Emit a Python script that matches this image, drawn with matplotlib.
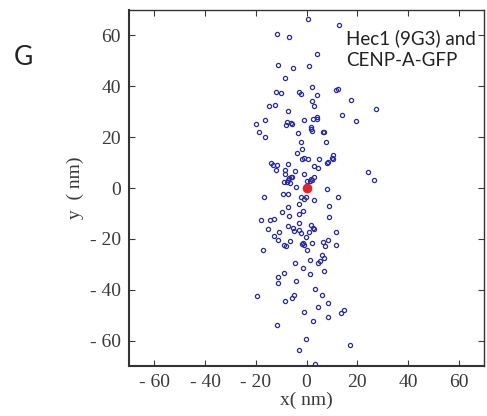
import matplotlib
matplotlib.use('Agg')
import matplotlib.pyplot as plt
import numpy as np

# localisation offsets (nm)
x_nm = [0.65, 12.9, -11.7, -6.8, 4.0, -11.1, -5.5, 0.8, -8.7, 2.3,
        -12.0, -10.2, -3.1, -2.3, 4.0, 2.0, 11.6, 12.4, 17.4, 27.3,
        2.9, -14.8, -12.6, -7.3, 13.8, 19.5, -16.3, -19.8, -7.9, -8.3,
        -6.0, -5.6, -0.9, 2.5, 4.2, 4.2, 1.8, 1.7, 2.0, -18.8,
        -3.5, 6.3, 6.8, -16.3, -2.2, 7.7, -1.7, -3.8, 10.5, 9.9,
        10.4, 4.9, -1.7, -1.2, 0.5, 7.9, 8.3, 3.1, 4.6, -14.1,
        -13.4, -11.6, -7.4, -12.0, -8.6, -8.7, -4.6, -1.2, 24.1, 26.7,
        -6.9, -6.1, -5.6, -7.4, -8.9, -6.6, -7.7, 0.1, 1.6, 2.0,
        1.3, 2.9, -4.3, 8.2, -16.8, -9.2, -7.4, -2.0, -1.2, -0.3,
        3.0, 12.5, -2.9, 8.9, -7.4, -1.4, -9.5, -6.8, -3.0, 8.9,
        -18.0, -14.3, -12.9, -2.9, 1.6, -7.3, -15.1, -5.2, -4.9, -3.0,
        -2.0, 0.8, 2.7, 3.1, -10.8, 11.7, -13.0, -0.3, -11.1, -6.5,
        6.6, 8.3, -8.9, -8.2, -1.7, -1.3, -0.9, 2.3, 7.3, 11.5,
        -17.3, 0.1, 6.1, 7.0, 1.4, 5.2, 4.6, -4.7, -1.3, 7.0,
        -9.0, 1.3, -11.2, -11.2, -4.3, 3.5, -5.1, -5.6, 6.0, -19.5,
        -8.5, 8.5, 4.4, 14.6, 13.4, -1.2, 8.5, 2.5, -11.6, -0.4,
        17.3, -2.9, 3.5]
y_nm = [66.4, 63.9, 60.6, 59.3, 52.7, 48.2, 47.0, 47.8, 43.2, 39.7,
        37.7, 37.3, 37.7, 36.9, 36.4, 34.4, 38.5, 38.9, 34.7, 31.1,
        32.4, 32.1, 32.5, 30.2, 28.7, 26.2, 26.7, 25.2, 25.8, 24.6,
        25.4, 25.2, 26.6, 27.0, 28.1, 27.0, 24.0, 23.2, 22.4, 21.9,
        21.5, 21.9, 22.1, 20.2, 18.0, 18.2, 15.4, 13.6, 13.0, 11.7,
        11.3, 11.3, 11.5, 11.9, 11.3, 10.0, 10.4, 8.8, 8.0, 9.9,
        9.2, 9.2, 9.4, 7.1, 6.9, 5.7, 6.5, 5.4, 6.3, 3.3,
        3.8, 4.5, 4.5, 3.2, 2.2, 2.1, 2.5, 2.9, 3.6, 3.2,
        2.9, 4.3, 0.4, -0.3, -3.6, -2.5, -2.4, -3.6, -4.3, -3.4,
        -4.6, -3.6, -6.2, -6.9, -7.6, -9.1, -9.6, -10.8, -10.3, -11.3,
        -12.6, -12.6, -12.0, -13.8, -14.6, -14.9, -16.2, -15.9, -16.9, -16.6,
        -17.7, -17.3, -15.9, -16.3, -17.3, -17.1, -18.8, -19.2, -20.6, -20.8,
        -21.2, -20.3, -22.3, -22.8, -22.1, -21.8, -22.5, -21.8, -22.9, -22.5,
        -24.5, -24.2, -26.2, -27.7, -28.1, -28.6, -29.5, -29.5, -31.5, -32.8,
        -33.5, -33.9, -35.0, -37.2, -36.4, -39.5, -41.9, -43.2, -41.9, -42.4,
        -44.3, -45.3, -46.8, -48.1, -49.1, -48.9, -50.6, -52.3, -53.9, -59.2,
        -61.9, -63.6, -69.2]
centre = (0, 0)
ticks = [-60, -40, -20, 0, 20, 40, 60]
tick_labels = ['- 60', '- 40', '- 20', '0', '20', '40', '60']

fig = plt.figure(figsize=(4.87, 4.16), dpi=100)
ax = fig.add_axes([0.265, 0.12, 0.729, 0.856])

ax.plot(x_nm, y_nm, 'o', ms=3.0, mfc='none', mec='#2a2aa0', mew=0.9)
ax.plot(centre[0], centre[1], 'o', ms=6, color='#e8202a')

ax.set_xlim(-70, 70)
ax.set_ylim(-70, 70)
ax.set_xticks(ticks)
ax.set_xticklabels(tick_labels)
ax.set_yticks(ticks)
ax.set_yticklabels(tick_labels)
ax.tick_params(direction='in', top=True, right=True, length=4, width=0.8,
               labelsize=14, colors='#3a3a3a', pad=6)
for lab in ax.get_xticklabels() + ax.get_yticklabels():
    lab.set_family('Liberation Serif')
for s in ax.spines.values():
    s.set_color('#333333')
    s.set_linewidth(1.0)
ax.spines['left'].set_linewidth(1.5)
ax.spines['bottom'].set_linewidth(1.5)

ax.set_xlabel('x( nm)', family='Liberation Serif', fontsize=14, color='#3a3a3a', labelpad=0)
ax.set_ylabel('y  ( nm)', family='Liberation Serif', fontsize=14, color='#3a3a3a', labelpad=4)

ax.text(0.612, 0.89, 'Hec1 (9G3) and\nCENP-A-GFP', transform=ax.transAxes,
        family='Lato', fontsize=13.5, color='#222222', va='center', ha='left',
        linespacing=1.4)
fig.text(0.028, 0.862, 'G', family='Lato', fontsize=19, color='#222222', va='center')

fig.savefig('out.png', dpi=100)
